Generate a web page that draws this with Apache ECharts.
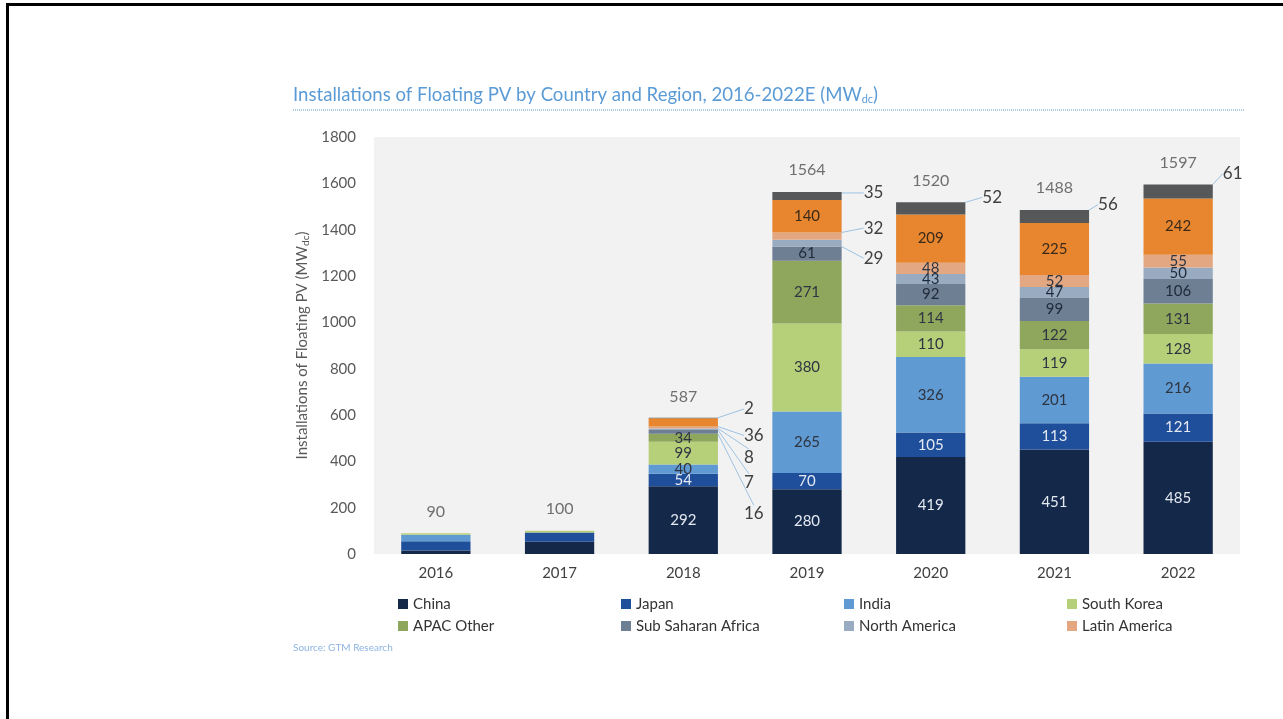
<!DOCTYPE html>
<html>
<head>
<meta charset="utf-8">
<title>Floating PV installations</title>
<script src="https://cdn.jsdelivr.net/npm/echarts@6/dist/echarts.min.js"></script>
<style>
  html, body { margin: 0; padding: 0; background: #fff; }
  #chart { position: absolute; left: 0; top: 0; width: 1283px; height: 719px; }
  #frame { position: absolute; left: 6px; top: 3px; width: 1277px; height: 716px;
    border-top: 3px solid #000; border-left: 3px solid #000; box-sizing: border-box; pointer-events: none; }
</style>
</head>
<body>
<div id="chart"></div>
<div id="frame"></div>
<script>
// values (MWdc)
const years = ['2016', '2017', '2018', '2019', '2020', '2021', '2022']
const totals = [90, 100, 587, 1564, 1520, 1488, 1597]
const china = [15, 53, 292, 280, 419, 451, 485]
const japan = [40, 40, 54, 70, 105, 113, 121]
const india = [28, 0, 40, 265, 326, 201, 216]
const southKorea = [7, 7, 99, 380, 110, 119, 128]
const apacOther = [0, 0, 34, 271, 114, 122, 131]
const subSaharanAfrica = [0, 0, 16, 61, 92, 99, 106]
const northAmerica = [0, 0, 7, 29, 43, 47, 50]
const latinAmerica = [0, 0, 8, 32, 48, 52, 55]
const europe = [0, 0, 36, 140, 209, 225, 242]
const other = [0, 0, 2, 35, 52, 56, 61]
const yTicks = { min: 0, max: 1800, interval: 200 }

// name, values, colour, label colour
const seriesDefs = [
  ['China', china, '#14294a', '#e4e9f1'],
  ['Japan', japan, '#1f4f9b', '#e4e9f1'],
  ['India', india, '#5f9ad3', '#2e3440'],
  ['South Korea', southKorea, '#b6d07a', '#2e3440'],
  ['APAC Other', apacOther, '#8fa75c', '#2e3440'],
  ['Sub Saharan Africa', subSaharanAfrica, '#6e7e93', '#1f2a3a'],
  ['North America', northAmerica, '#98abc1', '#1f2a3a'],
  ['Latin America', latinAmerica, '#e3a882', '#2e3440'],
  ['Europe', europe, '#e8852f', '#3a2a1a'],
  ['Other', other, '#555759', '#2e3440']
]

// callout labels: [dy, distance from bar]
const callouts = {
  'Sub Saharan Africa': { 2: [82, 26] },
  'North America': { 2: [53, 26], 3: [15, 22] },
  'Latin America': { 2: [30, 26], 3: [-8, 22] },
  'Europe': { 2: [13, 26] },
  'Other': { 2: [-9, 26], 3: [-3, 22], 4: [-11, 17], 5: [-12, 9], 6: [-18, 10] }
}

const font = 'Lato, "Open Sans", sans-serif'
const chart = echarts.init(document.getElementById('chart'))

const bars = seriesDefs.map(([name, values, color, labelColor]) => {
  const marks = callouts[name] || {}
  return {
    name: name,
    type: 'bar',
    stack: 'total',
    barWidth: '56%',
    itemStyle: { color: color },
    label: { show: false, position: 'inside', color: labelColor, fontSize: 15, fontFamily: font },
    labelLayout: (p) => (marks[p.dataIndex] ? { dy: marks[p.dataIndex][0] } : {}),
    data: values.map((v, i) => {
      const c = marks[i]
      if (c) {
        return {
          value: v,
          label: { show: true, position: 'right', distance: c[1], color: '#404040', fontSize: 17 },
          labelLine: { show: true, lineStyle: { color: '#9cc3e5', width: 1 } }
        }
      }
      return { value: v, label: { show: i >= 2 } }
    })
  }
})

chart.setOption({
  animation: false,
  textStyle: { fontFamily: font },
  title: {
    left: 288,
    top: 80,
    text: '{t|Installations of Floating PV by Country and Region, 2016-2022E (MW}{s|dc}{t|)}',
    textStyle: {
      fontWeight: 'normal',
      rich: {
        t: { fontSize: 18.6, color: '#5b9bd5', fontWeight: 'normal', fontFamily: font },
        s: { fontSize: 11, color: '#5b9bd5', fontWeight: 'normal', fontFamily: font, padding: [9, 0, 0, 0] }
      }
    }
  },
  graphic: [
    {
      type: 'line',
      shape: { x1: 293, y1: 110, x2: 1245, y2: 110 },
      style: { stroke: '#5b9bd5', lineWidth: 1, lineDash: [1, 1] }
    },
    {
      type: 'text',
      left: 293,
      top: 643,
      style: { text: 'Source: GTM Research', fill: '#8db4e2', fontSize: 10, fontFamily: font }
    }
  ],
  grid: {
    left: 374,
    right: 43,
    top: 137,
    bottom: 165,
    show: true,
    backgroundColor: '#f2f2f2',
    borderWidth: 0
  },
  legend: {
    data: seriesDefs.slice(0, 8).map(d => d[0]),
    left: 393,
    top: 588,
    width: 900,
    itemWidth: 10,
    itemHeight: 10,
    itemGap: 0,
    icon: 'rect',
    textStyle: { color: '#333', fontSize: 15, width: 208, lineHeight: 22, fontFamily: font }
  },
  xAxis: {
    type: 'category',
    data: years,
    axisLine: { show: false },
    axisTick: { show: false },
    axisLabel: { color: '#404040', fontSize: 15, margin: 12 }
  },
  yAxis: {
    type: 'value',
    min: yTicks.min,
    max: yTicks.max,
    interval: yTicks.interval,
    splitLine: { show: false },
    axisLabel: { color: '#595959', fontSize: 15, margin: 18, formatter: (v) => String(v) },
    name: '{t|Installations of Floating PV (MW}{s|dc}{t|)}',
    nameLocation: 'middle',
    nameGap: 58,
    nameTextStyle: {
      rich: {
        t: { fontSize: 15, color: '#595959', fontFamily: font },
        s: { fontSize: 10, color: '#595959', fontFamily: font, padding: [7, 0, 0, 0] }
      }
    }
  },
  series: bars.concat([{
    name: 'Total',
    type: 'scatter',
    symbolSize: 1,
    silent: true,
    itemStyle: { color: 'rgba(0,0,0,0)' },
    label: { show: true, position: 'top', distance: 13, color: '#4d4d4d', fontSize: 16 },
    data: totals
  }])
})
</script>
</body>
</html>
